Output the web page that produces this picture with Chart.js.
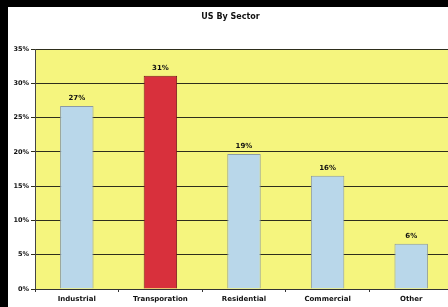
<!DOCTYPE html>
<html>
<head>
<meta charset="utf-8">
<script src="https://cdn.jsdelivr.net/npm/chart.js@4.4.0/dist/chart.umd.min.js"></script>
<style>
html,body{margin:0;padding:0;background:#000;width:448px;height:307px;overflow:hidden;}
#wrap{position:absolute;left:8px;top:7px;width:450px;height:300px;background:#fff;}
canvas{display:block;}
</style>
</head>
<body>
<div id="wrap"><canvas id="c" width="450" height="300"></canvas></div>
<script>
const categories = ["Industrial", "Transporation", "Residential", "Commercial", "Other"];
const sharePct = [26.7, 31.1, 19.7, 16.5, 6.6];
const valueLabels = ["27%", "31%", "19%", "16%", "6%"];
const barColors = ["#b9d7ea", "#d8303c", "#b9d7ea", "#b9d7ea", "#b9d7ea"];
const barBorders = ["#8c9aa4", "#7a1a1e", "#8c9aa4", "#8c9aa4", "#8c9aa4"];
const yTicks = [0, 5, 10, 15, 20, 25, 30, 35];

const FONT = '"DejaVu Sans", "Liberation Sans", Arial, sans-serif';

const bgPlugin = {
  id: 'plotBg',
  beforeDraw(chart) {
    const {ctx, chartArea: a} = chart;
    ctx.save();
    ctx.fillStyle = '#f5f57e';
    ctx.fillRect(a.left, a.top, a.right - a.left, a.bottom - a.top);
    ctx.restore();
  }
};
const labelPlugin = {
  id: 'valLabels',
  afterDatasetsDraw(chart) {
    const {ctx} = chart;
    const meta = chart.getDatasetMeta(0);
    ctx.save();
    ctx.font = 'bold 7px ' + FONT;
    ctx.fillStyle = '#111';
    ctx.textAlign = 'center';
    ctx.textBaseline = 'bottom';
    meta.data.forEach((el, i) => {
      ctx.fillText(valueLabels[i], el.x, el.y - 4);
    });
    ctx.restore();
  }
};

new Chart(document.getElementById('c'), {
  type: 'bar',
  data: {
    labels: categories,
    datasets: [{
      data: sharePct,
      backgroundColor: barColors,
      borderColor: barBorders,
      borderWidth: 1,
      barPercentage: 0.8,
      categoryPercentage: 0.5
    }]
  },
  options: {
    responsive: false,
    animation: false,
    layout: {padding: {left: 0, right: 5, top: 0, bottom: 0}},
    plugins: {
      legend: {display: false},
      tooltip: {enabled: false},
      title: {
        display: true,
        text: 'US By Sector',
        color: '#111',
        font: {family: FONT, size: 8, weight: 'bold'},
        padding: {top: 5, bottom: 27.4}
      }
    },
    scales: {
      y: {
        min: 0, max: 35,
        afterBuildTicks(s) { s.ticks = yTicks.map(v => ({value: v})); },
        afterFit(s) { s.width = 27; },
        ticks: {
          callback: v => v + '%',
          color: '#111',
          padding: 2,
          font: {family: FONT, size: 6.5, weight: 'bold'}
        },
        grid: {color: '#2e2e1c', lineWidth: 1, tickLength: 4},
        border: {color: '#444', width: 1}
      },
      x: {
        afterFit(s) { s.height = 18; },
        ticks: {
          color: '#111',
          padding: 3,
          maxRotation: 0,
          font: {family: FONT, size: 7, weight: 'bold'}
        },
        grid: {drawOnChartArea: false, drawTicks: true, tickLength: 3, color: '#333', offset: true},
        border: {color: '#333', width: 1}
      }
    }
  },
  plugins: [bgPlugin, labelPlugin]
});
</script>
</body>
</html>
